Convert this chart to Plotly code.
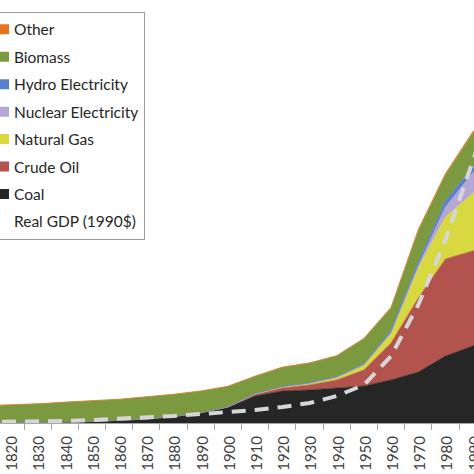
import plotly.graph_objects as go

# ---- data (energy in EJ approx., GDP in trillion 1990$ approx.) ----
years = ["1800", "1810", "1820", "1830", "1840", "1850", "1860", "1870", "1880", "1890",
         "1900", "1910", "1920", "1930", "1940", "1950", "1960", "1970", "1980", "1990",
         "2000"]

coal = [0.4, 0.5, 0.6, 0.6, 1.3, 1.9, 3.1, 5.0, 8.1, 12.5,
        19.4, 33.8, 40.0, 41.3, 43.8, 46.3, 53.8, 63.8, 83.8, 96.3,
        106.3]
crude_oil = [0, 0, 0, 0, 0, 0, 0, 0, 0, 0.3,
             0.6, 1.9, 3.8, 6.3, 10.0, 20.0, 46.3, 92.5, 121.3, 118.8,
             127.5]
natural_gas = [0, 0, 0, 0, 0, 0, 0, 0, 0, 0,
               0.3, 0.6, 1.3, 1.9, 3.1, 6.3, 12.5, 37.5, 52.5, 72.5,
               82.5]
nuclear = [0, 0, 0, 0, 0, 0, 0, 0, 0, 0,
           0, 0, 0, 0, 0, 0, 0.3, 2.5, 12.5, 25.0,
           27.5]
hydro = [0, 0, 0, 0, 0, 0, 0, 0, 0, 0,
         0.3, 0.6, 0.6, 0.9, 1.3, 1.3, 3.1, 5.0, 7.5, 7.5,
         8.8]
biomass = [19.5, 20.6, 21.9, 23.1, 24.4, 25.6, 26.3, 27.5, 27.5, 26.9,
           25.0, 21.3, 23.8, 24.4, 25.6, 31.3, 27.5, 38.8, 32.5, 41.3,
           43.8]
other = [0.4, 0.4, 0.4, 0.4, 0.4, 0.4, 0.4, 0.4, 0.4, 0.4,
         0.4, 0.4, 0.4, 0.4, 0.4, 0.6, 1.3, 1.9, 1.9, 2.5,
         2.5]
real_gdp = [0.08, 0.09, 0.1, 0.15, 0.2, 0.3, 0.4, 0.55, 0.7, 0.9,
            1.05, 1.3, 1.6, 2.0, 2.7, 3.8, 6.7, 11.8, 18.3, 26.3,
            34.0]

series = [
    ("Coal", coal, "#262626"),
    ("Crude Oil", crude_oil, "#b3534e"),
    ("Natural Gas", natural_gas, "#d8d840"),
    ("Nuclear Electricity", nuclear, "#b4a7d6"),
    ("Hydro Electricity", hydro, "#5b7fcf"),
    ("Biomass", biomass, "#7b9a3f"),
    ("Other", other, "#e8731e"),
]
legend_order = ["Other", "Biomass", "Hydro Electricity", "Nuclear Electricity",
                "Natural Gas", "Crude Oil", "Coal"]
gdp_name = "Real GDP (1990$)"
gdp_color = "#d6d6d6"

fig = go.Figure()
for name, vals, col in series:
    fig.add_trace(go.Scatter(
        x=years, y=vals, name=name, stackgroup="energy", mode="lines",
        line=dict(color=col, width=0.6), fillcolor=col, showlegend=False,
        hoverinfo="skip"))

fig.add_trace(go.Scatter(
    x=years, y=real_gdp, name=gdp_name, yaxis="y2", mode="lines",
    line=dict(color=gdp_color, width=4, dash="14px,9px"), showlegend=False))

# legend entries (square-ish swatches)
colors = {n: c for n, _, c in series}
for name in legend_order:
    fig.add_trace(go.Scatter(
        x=[None], y=[None], name=name, mode="lines",
        line=dict(color=colors[name], width=10),
        legendgroup=name, showlegend=True))
fig.add_trace(go.Scatter(
    x=[None], y=[None], name=gdp_name, mode="lines",
    line=dict(color="rgba(255,255,255,0)", width=4),
    legendgroup=gdp_name, showlegend=True))

W, H = 474, 474
plot_bottom = 423
first = years.index("1820")
fig.update_layout(
    width=W, height=H,
    margin=dict(l=0, r=0, t=0, b=H - plot_bottom, autoexpand=False),
    paper_bgcolor="white", plot_bgcolor="white",
    font=dict(family="Lato, Carlito, sans-serif", color="#404040"),
    showlegend=True,
    legend=dict(
        x=-27 / W, xanchor="left", y=1 - 11.7 / plot_bottom, yanchor="top",
        bgcolor="white", bordercolor="#9a9a9a", borderwidth=1,
        font=dict(size=15.5, color="#262626"),
        traceorder="grouped", tracegroupgap=4.3,
    ),
    xaxis=dict(
        type="category", range=[first - 0.3825, first + 17.05],
        tickson="boundaries", ticks="outside", ticklen=6, tickcolor="#a6a6a6",
        showline=True, linecolor="#a6a6a6", linewidth=1,
        showgrid=False, zeroline=False,
        tickangle=-90, tickfont=dict(size=15, color="#404040"),
        ticklabelshift=2, ticklabelstandoff=6,
    ),
    yaxis=dict(range=[0, 528.75], visible=False, showgrid=False, zeroline=False),
    yaxis2=dict(range=[0, 42.3], overlaying="y", side="right", visible=False,
                showgrid=False, zeroline=False),
)

fig.write_html(
    "out.html",
    config={"displayModeBar": False},
    post_script="document.body.style.margin='0';document.body.style.padding='0';",
)
